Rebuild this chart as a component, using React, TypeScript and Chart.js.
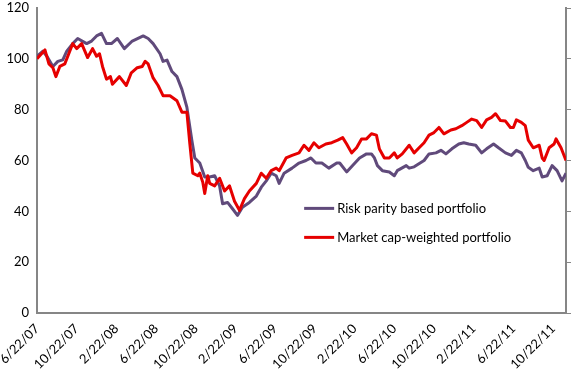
import React, { useEffect, useRef } from 'react';
import { Chart, registerables } from 'chart.js';

Chart.register(...registerables);

// Tick labels (every 4 months from 6/22/07), positions in months since 6/22/07
const tickLabels = ['6/22/07', '10/22/07', '2/22/08', '6/22/08', '10/22/08', '2/22/09', '6/22/09', '10/22/09', '2/22/10', '6/22/10', '10/22/10', '2/22/11', '6/22/11', '10/22/11'];
const tickMonths = [0, 4, 8, 12, 16, 20, 24, 28, 32, 36, 40, 44, 48, 52];

// Risk parity based portfolio (months since 6/22/07, value)
const riskParityMonths = [0, 0.6, 1.0, 1.6, 2.1, 2.6, 3.0, 3.6, 4.1, 5.0, 5.5, 6.0, 6.5, 7.0, 7.5, 8.1, 8.8, 9.6, 10.7, 11.2, 11.7, 12.4, 12.7, 13.1, 13.6, 14.1, 14.6, 15.1, 15.6, 15.9, 16.4, 16.9, 17.4, 17.9, 18.4, 18.7, 19.2, 19.7, 20.2, 20.7, 21.4, 22.1, 22.6, 23.1, 23.6, 24.1, 24.4, 24.9, 25.7, 26.4, 27.1, 27.6, 28.1, 28.7, 29.4, 30.2, 30.5, 31.2, 31.8, 32.5, 33.2, 33.7, 34.0, 34.3, 34.8, 35.5, 36.0, 36.3, 37.2, 37.5, 38.0, 39.0, 39.5, 40.2, 40.7, 41.2, 41.8, 42.5, 43.0, 43.5, 44.2, 44.8, 45.3, 46.0, 46.5, 47.2, 47.8, 48.3, 48.8, 49.2, 49.5, 50.0, 50.6, 50.9, 51.4, 51.9, 52.4, 52.9, 53.3];
const riskParityValues = [101, 103, 101, 97, 99, 99.6, 103, 106, 108, 106, 107, 109, 110, 106, 106, 108, 104, 107, 109, 108, 106, 102, 99, 99.5, 95, 93, 88, 81, 68, 61, 59, 53.5, 53.5, 54, 50, 43, 43.5, 41, 38.4, 41.6, 43.5, 46, 49.5, 52, 55, 54, 51, 55, 57, 59, 60, 61, 59, 59, 57, 59, 59, 55.5, 58, 61, 62.6, 62.6, 61, 58, 56, 55.5, 54, 56, 58, 57, 57.5, 60, 62.6, 63, 64, 62.6, 64.6, 66.5, 67, 66.5, 66, 63, 64.6, 66.5, 65, 63, 62, 64, 63, 60, 57.3, 56, 57, 53.5, 54, 58, 56, 52, 55];

// Market cap-weighted portfolio (months since 6/22/07, value)
const marketCapMonths = [0, 0.8, 1.2, 1.6, 1.9, 2.3, 2.8, 3.3, 3.6, 4.0, 4.5, 5.1, 5.6, 6.0, 6.3, 6.6, 7.0, 7.4, 7.6, 8.3, 9.0, 9.5, 10.1, 10.6, 10.9, 11.2, 11.7, 12.2, 12.7, 13.4, 14.1, 14.6, 15.1, 15.4, 15.7, 16.2, 16.4, 16.7, 16.9, 17.2, 17.4, 17.9, 18.4, 18.9, 19.4, 19.9, 20.4, 20.9, 21.4, 22.1, 22.6, 23.1, 23.6, 24.1, 24.4, 25.1, 25.7, 26.4, 26.9, 27.4, 27.9, 28.4, 29.1, 29.7, 30.3, 30.8, 31.2, 31.7, 32.2, 32.7, 33.2, 33.7, 34.2, 34.5, 35.0, 35.5, 36.0, 36.3, 36.8, 37.5, 38.0, 38.5, 39.0, 39.5, 40.0, 40.5, 41.0, 41.7, 42.2, 42.8, 43.3, 43.8, 44.3, 44.8, 45.3, 45.8, 46.2, 46.7, 47.2, 47.7, 48.0, 48.3, 48.8, 49.2, 49.5, 50.0, 50.6, 50.9, 51.1, 51.6, 52.1, 52.3, 52.8, 53.3];
const marketCapValues = [100, 103.5, 98, 96.5, 93, 97, 98, 103, 106, 104, 106, 100.5, 104, 101, 102, 97, 92, 93, 90, 93, 89.5, 94.5, 96.5, 97, 99, 98, 92.5, 89.5, 85.5, 85.5, 83.5, 79, 79, 66.5, 55, 54, 55, 51.5, 47, 54, 51, 50, 53, 48, 50, 44, 40.4, 45, 48, 51, 55, 53, 56, 57, 56, 61, 62, 63, 66, 64, 67, 65, 66.5, 67, 68, 69, 66.5, 63, 65, 68.5, 68.5, 70.5, 70, 64.5, 61, 61, 63, 61, 62.6, 66, 63, 65, 67, 70, 71, 73, 70.5, 72, 72.5, 73.7, 75, 76.3, 75.7, 73, 76, 77, 78.4, 75.7, 75.5, 73, 73, 76, 75, 73.7, 68, 65, 66, 61, 60, 65, 66.5, 68.5, 65, 60];

const seriesNames = ['Risk parity based portfolio', 'Market cap-weighted portfolio'];
const seriesColors = ['#604a7b', '#e60000'];

const FONT = 'Lato, "Open Sans", sans-serif';
const AXIS_COLOR = '#868686';

const insideLegend = {
  id: 'insideLegend',
  afterDraw(chart: any) {
    const { ctx, chartArea } = chart;
    const w = chartArea.right - chartArea.left;
    const h = chartArea.bottom - chartArea.top;
    const x0 = chartArea.left + w * 0.505;
    const y0 = chartArea.top + h * 0.657;
    const gap = 29;
    ctx.save();
    ctx.font = `13px ${FONT}`;
    ctx.textBaseline = 'middle';
    ctx.textAlign = 'left';
    chart.data.datasets.forEach((ds: any, i: number) => {
      const y = y0 + i * gap;
      ctx.strokeStyle = ds.borderColor;
      ctx.lineWidth = 3;
      ctx.beginPath();
      ctx.moveTo(x0, y);
      ctx.lineTo(x0 + 30, y);
      ctx.stroke();
      ctx.fillStyle = '#000';
      ctx.fillText(ds.label, x0 + 33, y);
    });
    ctx.restore();
  },
};

export default function App() {
  const canvasRef = useRef<HTMLCanvasElement | null>(null);

  useEffect(() => {
    if (!canvasRef.current) return;
    const toPoints = (xs: number[], ys: number[]) => xs.map((x, i) => ({ x, y: ys[i] }));
    const chart = new Chart(canvasRef.current, {
      type: 'line',
      data: {
        datasets: [
          {
            label: seriesNames[0],
            data: toPoints(riskParityMonths, riskParityValues),
            borderColor: seriesColors[0],
            backgroundColor: seriesColors[0],
            borderWidth: 3,
            pointRadius: 0,
            tension: 0,
            borderJoinStyle: 'round',
            order: 2,
          },
          {
            label: seriesNames[1],
            data: toPoints(marketCapMonths, marketCapValues),
            borderColor: seriesColors[1],
            backgroundColor: seriesColors[1],
            borderWidth: 3,
            pointRadius: 0,
            tension: 0,
            borderJoinStyle: 'round',
            order: 1,
          },
        ],
      },
      options: {
        responsive: false,
        devicePixelRatio: 1,
        animation: false,
        layout: { padding: { top: 8, left: 0, right: 0, bottom: 0 } },
        plugins: { legend: { display: false }, tooltip: { enabled: false } },
        scales: {
          x: {
            type: 'linear',
            min: 0,
            max: 53.3,
            grid: { display: false, drawTicks: false },
            border: { display: true, color: AXIS_COLOR, width: 2 },
            afterBuildTicks: (s: any) => {
              s.ticks = tickMonths.map((v) => ({ value: v }));
            },
            afterFit: (s: any) => {
              s.height = 62;
              s.paddingLeft = 0;
              s.paddingRight = 0;
            },
            ticks: {
              autoSkip: false,
              maxRotation: 45,
              minRotation: 45,
              padding: 8,
              color: '#000',
              font: { family: FONT, size: 13 },
              callback: (_v: any, i: number) => tickLabels[i],
            },
          },
          y: {
            position: 'left',
            min: 0,
            max: 120,
            grid: { display: false, drawTicks: false },
            border: { display: true, color: AXIS_COLOR, width: 2 },
            afterFit: (s: any) => {
              s.width = 37;
              s.paddingTop = 0;
              s.paddingBottom = 0;
            },
            ticks: {
              stepSize: 20,
              padding: 8,
              color: '#000',
              font: { family: FONT, size: 13 },
            },
          },
          y2: {
            position: 'right',
            min: 0,
            max: 120,
            grid: { drawOnChartArea: false, drawTicks: true, tickLength: 5, color: AXIS_COLOR, lineWidth: 1 },
            border: { display: true, color: AXIS_COLOR, width: 2 },
            afterFit: (s: any) => {
              s.width = 6;
              s.paddingTop = 0;
              s.paddingBottom = 0;
            },
            ticks: { display: false, stepSize: 20 },
          },
        },
      },
      plugins: [insideLegend],
    } as any);
    return () => chart.destroy();
  }, []);

  return (
    <div style={{ position: 'fixed', left: 0, top: 0, width: 572, height: 375, background: '#fff' }}>
      <canvas ref={canvasRef} width={572} height={375} style={{ width: 572, height: 375, display: 'block' }} />
    </div>
  );
}
